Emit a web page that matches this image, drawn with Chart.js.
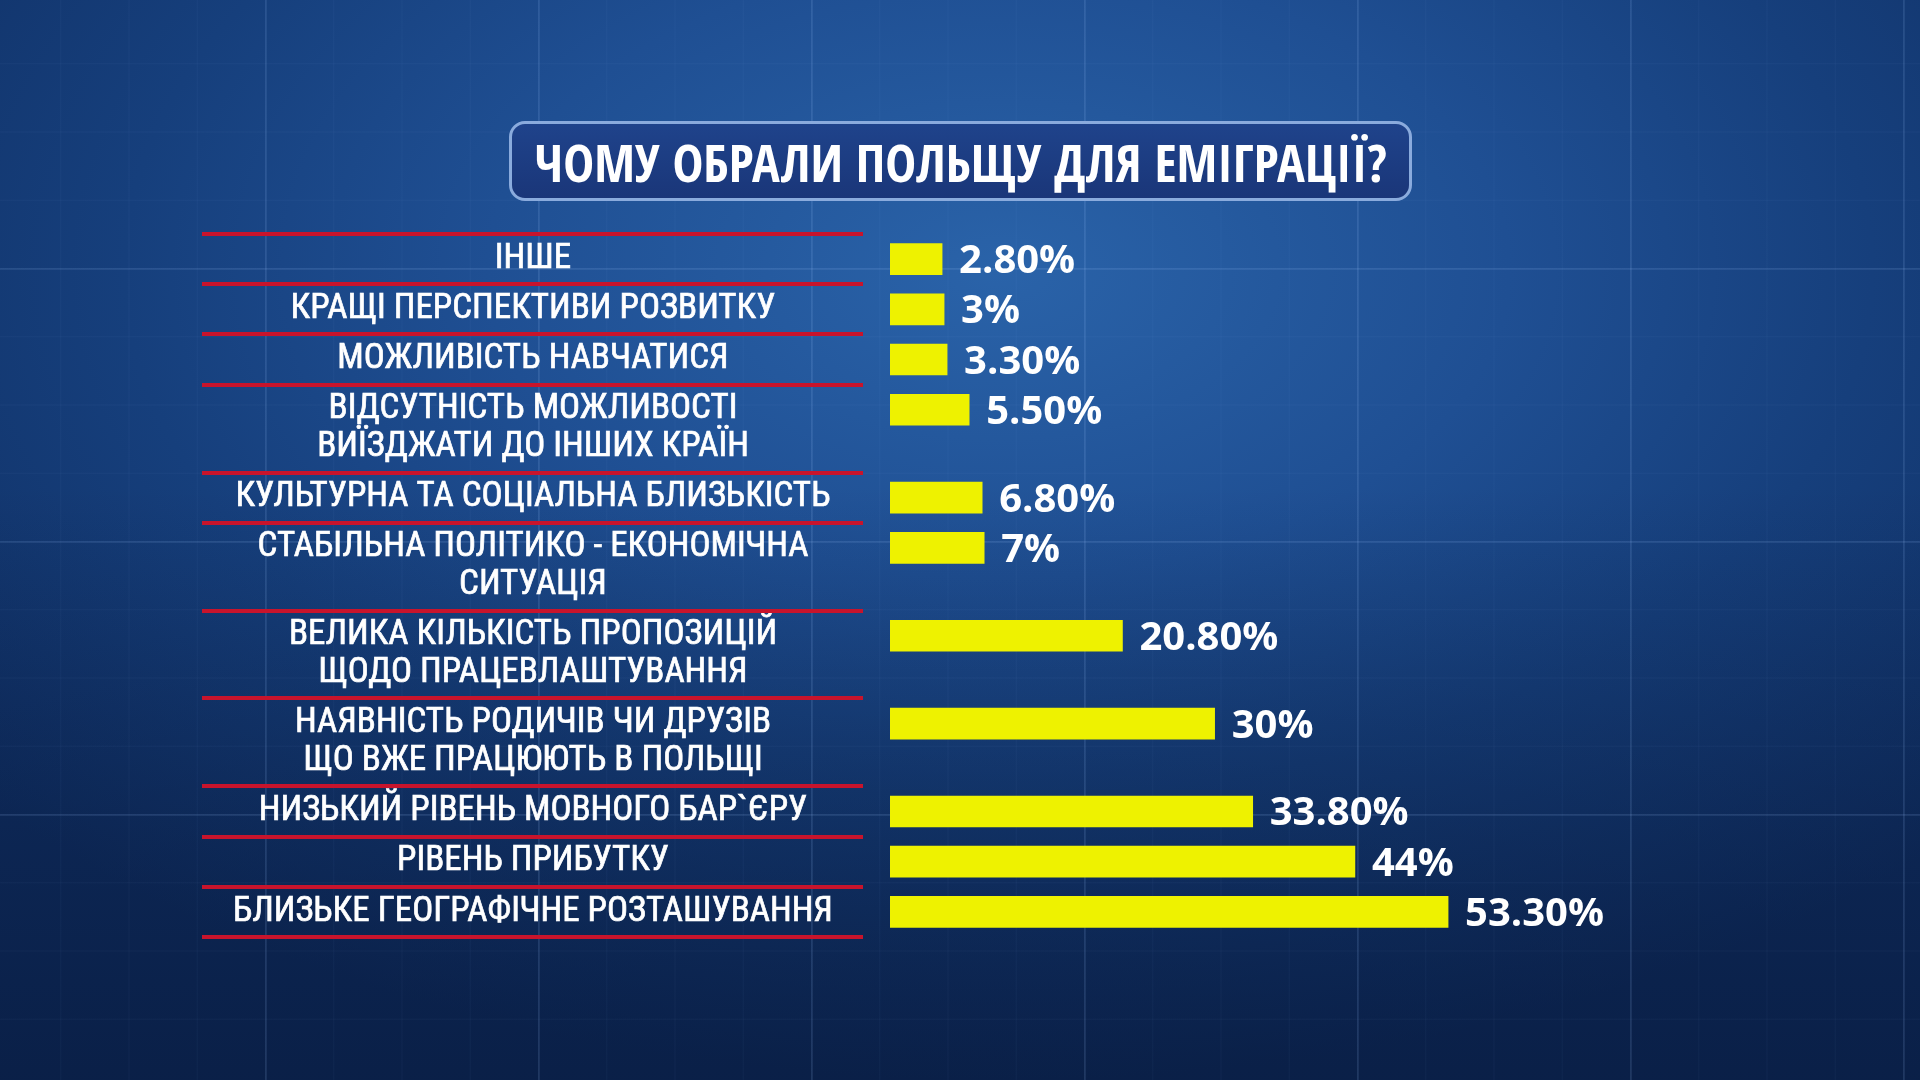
<!DOCTYPE html>
<html lang="uk">
<head>
<meta charset="utf-8">
<title>Чому обрали Польщу для еміграції?</title>
<script src="https://cdn.jsdelivr.net/npm/chart.js@4.4.1/dist/chart.umd.min.js"></script>
<style>
  html, body { margin: 0; padding: 0; }
  body {
    width: 1920px; height: 1080px; overflow: hidden; position: relative;
    background-color: #133a75;
    background-image:
      linear-gradient(to right, rgba(160,200,255,0.11) 2px, transparent 2px),
      linear-gradient(to bottom, rgba(160,200,255,0.11) 2px, transparent 2px),
      linear-gradient(to right, rgba(160,200,255,0.04) 1px, transparent 1px),
      linear-gradient(to bottom, rgba(160,200,255,0.04) 1px, transparent 1px),
      linear-gradient(to bottom, rgba(6,20,50,0) 45%, rgba(6,20,50,0.55) 100%),
      radial-gradient(ellipse 70% 75% at 52% 25%, #2a63a9 0%, #1f4f93 38%, #163f7c 65%, #0f2e62 100%);
    background-size: 273px 273px, 273px 273px, 68.25px 68.25px, 68.25px 68.25px, 100% 100%, 100% 100%;
    background-position: 265px 0, 0 268px, 265px 0, 0 268px, 0 0, 0 0;
  }
  #title {
    position: absolute; left: 509px; top: 121px; width: 903px; height: 80px;
    box-sizing: border-box; border: 3px solid #8aabdd; border-radius: 16px;
    background: linear-gradient(#1f438b, #1a3679);
    color: #fff; font: bold 52px "Open Sans Condensed", "Roboto Condensed", sans-serif;
    white-space: nowrap;
    display: flex; align-items: center; justify-content: center;
  }
  #wrap { position: absolute; left: 0; top: 0; width: 1920px; height: 1080px; }
</style>
</head>
<body>
<div id="title">ЧОМУ ОБРАЛИ ПОЛЬЩУ ДЛЯ ЕМІГРАЦІЇ?</div>
<div id="wrap"><canvas id="chart"></canvas></div>
<script>
// категорії (рядки підпису) та значення, %
const categories = [
    ['ІНШЕ'],
    ['КРАЩІ ПЕРСПЕКТИВИ РОЗВИТКУ'],
    ['МОЖЛИВІСТЬ НАВЧАТИСЯ'],
    ['ВІДСУТНІСТЬ МОЖЛИВОСТІ', 'ВИЇЗДЖАТИ ДО ІНШИХ КРАЇН'],
    ['КУЛЬТУРНА ТА СОЦІАЛЬНА БЛИЗЬКІСТЬ'],
    ['СТАБІЛЬНА ПОЛІТИКО - ЕКОНОМІЧНА', 'СИТУАЦІЯ'],
    ['ВЕЛИКА КІЛЬКІСТЬ ПРОПОЗИЦІЙ', 'ЩОДО ПРАЦЕВЛАШТУВАННЯ'],
    ['НАЯВНІСТЬ РОДИЧІВ ЧИ ДРУЗІВ', 'ЩО ВЖЕ ПРАЦЮЮТЬ В ПОЛЬЩІ'],
    ['НИЗЬКИЙ РІВЕНЬ МОВНОГО БАР`ЄРУ'],
    ['РІВЕНЬ ПРИБУТКУ'],
    ['БЛИЗЬКЕ ГЕОГРАФІЧНЕ РОЗТАШУВАННЯ']
];
const values = [2.8, 3, 3.3, 5.5, 6.8, 7, 20.8, 30, 33.8, 44, 53.3];

// стиль
const barColor = '#eef200';
const lineColor = '#c8142c';
const labelFont = { family: '"Roboto Condensed", "Open Sans Condensed", sans-serif', size: 35, lineHeight: 1.086 };
const valueFont = 'bold 40px "Open Sans", sans-serif';
const barBase = -2.4;

// висота рядка: один рядок тексту = 1, два рядки = 1.75
const rowUnits = categories.map(l => l.length === 1 ? 1 : 1.75);
const rowTops = [];
let acc = 0;
rowUnits.forEach(u => { rowTops.push(acc); acc += u; });
const totalUnits = acc;
const rowCenters = rowTops.map((t, i) => t + rowUnits[i] / 2);
const barRows = rowTops.map(t => t + 0.5);

function formatPct(v) {
    return Number.isInteger(v) ? v + '%' : v.toFixed(2) + '%';
}

// ширина найдовшого підпису — щоб центр колонки був на x≈533
const mctx = document.createElement('canvas').getContext('2d');
mctx.font = labelFont.size + 'px ' + labelFont.family;
const widest = Math.max(...categories.flat().map(s => mctx.measureText(s).width));
const labelPad = 890 - 533 - widest / 2;

// червоні лінії між рядками підписів
const rowLines = {
    id: 'rowLines',
    beforeDatasetsDraw(chart) {
        const y = chart.scales.y;
        const ctx = chart.ctx;
        ctx.save();
        ctx.strokeStyle = lineColor;
        ctx.lineWidth = 4;
        [...rowTops, totalUnits].forEach(v => {
            const py = Math.round(y.getPixelForValue(v));
            ctx.beginPath();
            ctx.moveTo(y.left, py);
            ctx.lineTo(y.right - 27, py);
            ctx.stroke();
        });
        ctx.restore();
    }
};

// підписи значень праворуч від стовпчиків
const valueLabels = {
    id: 'valueLabels',
    afterDatasetsDraw(chart) {
        const ctx = chart.ctx;
        ctx.save();
        ctx.font = valueFont;
        ctx.fillStyle = '#ffffff';
        ctx.textAlign = 'left';
        ctx.textBaseline = 'alphabetic';
        chart.getDatasetMeta(0).data.forEach((bar, i) => {
            ctx.fillText(formatPct(values[i]), bar.x + 17, bar.y + 14);
        });
        ctx.restore();
    }
};

new Chart(document.getElementById('chart'), {
    type: 'bar',
    data: {
        datasets: [{
            data: values.map((v, i) => ({ x: v, y: barRows[i] })),
            base: barBase,
            backgroundColor: barColor,
            barThickness: 31
        }]
    },
    options: {
        indexAxis: 'y',
        responsive: true,
        maintainAspectRatio: false,
        animation: false,
        layout: { padding: { left: 202, right: 4, top: 234, bottom: 143 } },
        plugins: { legend: { display: false }, tooltip: { enabled: false } },
        scales: {
            x: { type: 'linear', min: barBase, max: 100, display: false },
            y: {
                type: 'linear',
                reverse: true,
                offset: false,
                min: 0,
                max: totalUnits,
                grid: { display: false, drawTicks: false, offset: false },
                border: { display: false },
                afterBuildTicks(scale) {
                    scale.ticks = rowCenters.map(v => ({ value: v }));
                },
                afterFit(scale) {
                    scale.width = 688;
                },
                ticks: {
                    autoSkip: false,
                    crossAlign: 'center',
                    padding: labelPad,
                    color: '#ffffff',
                    textStrokeColor: '#ffffff',
                    textStrokeWidth: 0.7,
                    font: labelFont,
                    callback: (value, index) => categories[index]
                }
            }
        }
    },
    plugins: [rowLines, valueLabels]
});
</script>
</body>
</html>
